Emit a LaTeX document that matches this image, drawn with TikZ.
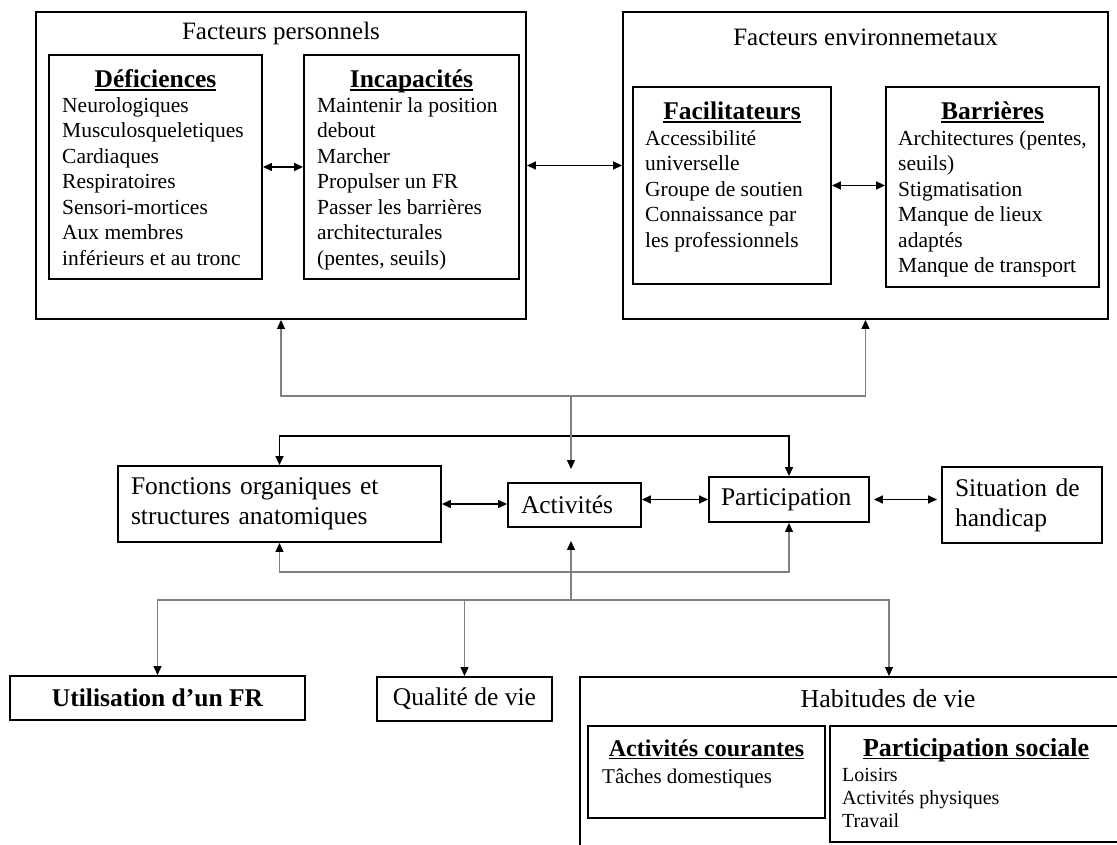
\documentclass[tikz,border=0pt]{standalone}
\usepackage{fontspec}
\setmainfont{Liberation Serif}
\usetikzlibrary{shapes.geometric, arrows.meta}

\newcommand{\txttitre}{\fontsize{25}{30}\selectfont}
\newcommand{\txtentete}{\fontsize{25.5}{30}\selectfont\bfseries}
\newcommand{\txtliste}{\fontsize{21.5}{25.5}\selectfont}
\newcommand{\txtcentre}{\fontsize{25.5}{30}\selectfont}
\newcommand{\txtbas}{\fontsize{20}{23}\selectfont}
\newcommand{\souligne}[1]{\setbox0\hbox{#1}\rlap{\rule[-3pt]{\wd0}{1.5pt}}\box0}

\tikzstyle{cadre} = [rectangle, draw=black, line width=1.9pt, inner sep=0pt]
\tikzstyle{boite} = [cadre, inner xsep=13pt, align=left, font=\txtcentre]
\tikzstyle{titre} = [anchor=base, inner sep=0pt, font=\txttitre]
\tikzstyle{entete} = [anchor=base, inner sep=0pt, font=\txtentete]
\tikzstyle{liste} = [anchor=north west, align=left, inner sep=0pt, font=\txtliste]
\tikzstyle{arrow} = [line width=1.6pt, <->, >={Triangle[length=9pt, width=8pt]}]
\tikzstyle{garrow} = [draw=gray, line width=1.2pt, ->, >={Triangle[length=9pt, width=8pt, color=black]}]

\begin{document}
\begin{tikzpicture}[x=1pt, y=-1pt]
\useasboundingbox (0,0) rectangle (1117,845);
\clip (0,0) rectangle (1117,845);

% facteurs personnels
\node (persos) [cadre, minimum width=490pt, minimum height=307pt] at (281,165.5) {};
\node (titpers) [titre] at (281,40) {Facteurs personnels};
\node (def) [cadre, minimum width=213pt, minimum height=224pt] at (155.5,167) {};
\node (defh) [entete] at (155.5,88) {\souligne{Déficiences}};
\node (defl) [liste] at (62,97) {Neurologiques\\Musculosqueletiques\\Cardiaques\\Respiratoires\\Sensori-mortices\\Aux membres\\inférieurs et au tronc};
\node (inc) [cadre, minimum width=215pt, minimum height=224pt] at (411.5,167) {};
\node (inch) [entete] at (411.5,88) {\souligne{Incapacités}};
\node (incl) [liste] at (317,97) {Maintenir la position\\debout\\Marcher\\Propulser un FR\\Passer les barrières\\architecturales\\(pentes, seuils)};

% facteurs environnementaux
\node (envir) [cadre, minimum width=485pt, minimum height=307pt] at (865.5,165.5) {};
\node (titenv) [titre] at (865.5,46) {Facteurs environnemetaux};
\node (fac) [cadre, minimum width=198pt, minimum height=197pt] at (732,185.5) {};
\node (fach) [entete] at (732,120) {\souligne{Facilitateurs}};
\node (facl) [liste] at (645,130) {Accessibilité\\universelle\\Groupe de soutien\\Connaissance par\\les professionnels};
\node (bar) [cadre, minimum width=213pt, minimum height=200pt] at (992.5,187) {};
\node (barh) [entete] at (992.5,120) {\souligne{Barrières}};
\node (barl) [liste] at (898,130) {Architectures (pentes,\\seuils)\\Stigmatisation\\Manque de lieux\\adaptés\\Manque de transport};

% ligne du milieu
\node (fonc) [boite, text width=297pt, minimum height=76pt] at (279.5,504) {Fonctions organiques et\\structures anatomiques};
\node (act) [boite, text width=107pt, minimum height=44pt] at (574.5,505) {Activités};
\node (part) [boite, inner xsep=12pt, text width=136pt, minimum height=45pt] at (789,499.5) {Participation};
\node (sit) [boite, text width=134pt, minimum height=76pt] at (1022,505) {Situation de\\handicap};

% bas
\node (util) [cadre, minimum width=295pt, minimum height=44pt, font=\txtcentre\bfseries] at (157.5,698) {Utilisation d’un FR};
\node (qual) [cadre, minimum width=175pt, minimum height=44pt, font=\txtcentre] at (464.5,699) {Qualité de vie};
\node (habit) [cadre, minimum width=618pt, minimum height=200pt] at (889,777) {};
\node (tithab) [titre, font=\fontsize{26}{30}\selectfont] at (888,707) {Habitudes de vie};
\node (cour) [cadre, minimum width=237pt, minimum height=92pt] at (706.5,772) {};
\node (courh) [entete, font=\fontsize{24}{28}\selectfont\bfseries] at (706.5,756) {\souligne{Activités courantes}};
\node (courl) [liste, font=\fontsize{21}{25}\selectfont] at (602,769) {Tâches domestiques};
\node (soc) [cadre, minimum width=300pt, minimum height=116pt] at (980,784) {};
\node (soch) [entete, font=\fontsize{26}{30}\selectfont\bfseries] at (976,756) {\souligne{Participation sociale}};
\node (socl) [liste, font=\txtbas] at (842,768) {Loisirs\\Activités physiques\\Travail};

% fleches noires
\draw [arrow] (def.east) -- (inc.west);
\draw [arrow] (persos.east) -- (envir.west);
\draw [arrow] (fac.east) -- (fac.east -| bar.west);
\draw [arrow] (fonc.east) -- (fonc.east -| act.west);
\draw [arrow] (part.west -| act.east) -- (part.west);
\draw [arrow, shorten <=4pt, shorten >=4pt] (part.east) -- (part.east -| sit.west);
\coordinate (hb) at (534,436);
\draw [arrow] (fonc.north) |- (hb) -| (part.north);

% fleches grises
\coordinate (hg) at (571,396);
\draw [garrow] (hg) -| (persos.south);
\draw [garrow] (hg) -| (envir.south);
\draw [garrow, shorten >=13pt] (hg) -- (hg |- act.north);
\coordinate (bg) at (534,572);
\draw [garrow, <->] (fonc.south) |- (bg) -| (part.south);
\coordinate (bg2) at (571,600);
\draw [garrow, shorten >=13pt] (bg2) -- (bg2 |- act.south);
\draw [garrow] (bg2) -| (util.north);
\draw [garrow] (bg2) -| (qual.north);
\draw [garrow] (bg2) -| (habit.north);
\end{tikzpicture}
\end{document}
